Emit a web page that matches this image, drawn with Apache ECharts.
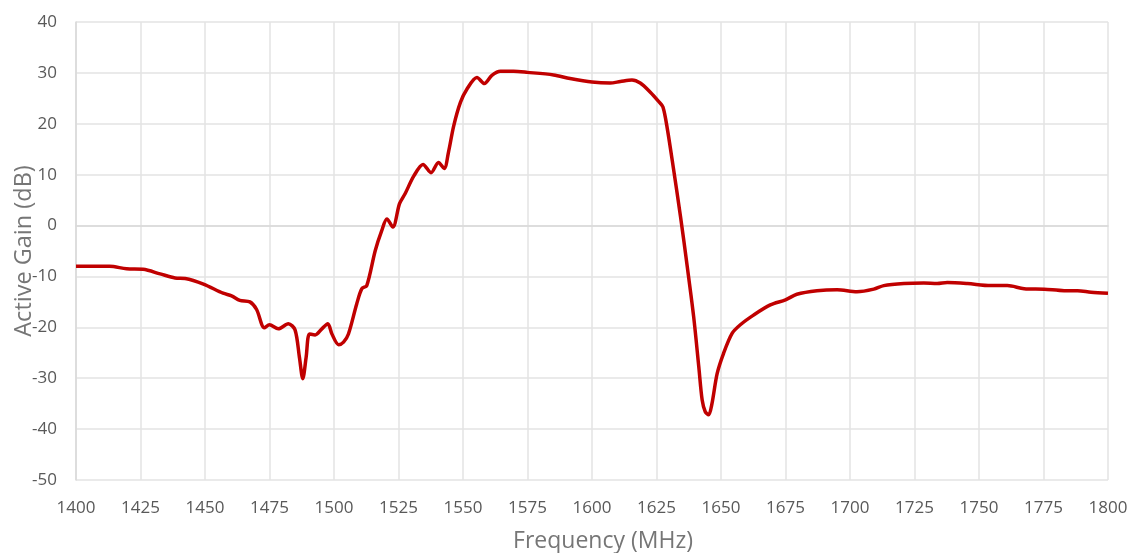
<!DOCTYPE html>
<html>
<head>
<meta charset="utf-8">
<script src="https://cdn.jsdelivr.net/npm/echarts@6/dist/echarts.min.js"></script>
<style>
html,body{margin:0;padding:0;background:#fff;}
#chart{width:1132px;height:553px;}
</style>
</head>
<body>
<div id="chart"></div>
<script>
const xTitle = "Frequency (MHz)";
const yTitle = "Active Gain (dB)";
const freq = [1400,1405,1413,1419.6,1426,1432.6,1438.4,1442.3,1449.4,1457,1460.3,1463.5,1467.4,1470,1473,1475,1478.4,1482.3,1484.9,1486.6,1487.9,1489.2,1490.5,1492.7,1495.3,1497.6,1499.2,1501.8,1503.7,1505.6,1508.8,1510.8,1512.7,1516,1518.5,1520.5,1522.8,1525.4,1527.6,1530.9,1534.5,1537.6,1540.5,1542.7,1544.4,1546.4,1549,1551.5,1555.4,1558.3,1561.2,1564.5,1569.6,1575,1585.1,1591.5,1600,1607,1611,1615.5,1618.7,1622.6,1625.8,1627.5,1629.2,1631.6,1634.3,1636.9,1639.4,1641.4,1642.7,1643.9,1645.2,1646.5,1648.5,1651,1654.3,1657.5,1662.6,1669.1,1675,1679.4,1687.2,1695,1702.7,1709.2,1713.1,1720.9,1728.6,1733.8,1737.7,1745.5,1754.5,1761,1767.5,1775.3,1783,1788.2,1793.4,1800];
const gain = [-8.0,-8.0,-8.0,-8.5,-8.6,-9.5,-10.3,-10.4,-11.5,-13.3,-13.8,-14.7,-15.0,-16.5,-20.1,-19.5,-20.3,-19.3,-20.5,-25.9,-30.1,-25.9,-21.3,-21.5,-20.3,-19.3,-21.3,-23.4,-22.9,-21.3,-15.4,-12.4,-11.8,-4.9,-1.0,1.3,-0.3,4.3,6.3,9.7,12.0,10.4,12.4,11.2,14.5,19.6,24.2,26.8,29.1,27.9,29.5,30.3,30.3,30.1,29.6,28.9,28.2,28.0,28.3,28.6,28.0,26.2,24.4,23.3,19.0,11.1,1.8,-8.0,-17.9,-27.8,-34.3,-36.6,-37.2,-35.0,-29.1,-25.1,-21.2,-19.5,-17.6,-15.6,-14.6,-13.5,-12.8,-12.6,-13.0,-12.5,-11.8,-11.4,-11.3,-11.4,-11.2,-11.4,-11.8,-11.8,-12.4,-12.5,-12.8,-12.8,-13.1,-13.3];
const xMin = 1400, xMax = 1800, xStep = 25;
const yMin = -50, yMax = 40, yStep = 10;

const chart = echarts.init(document.getElementById('chart'), null, {renderer:'canvas'});
const font = "'Open Sans', 'Liberation Sans', sans-serif";
chart.setOption({
  animation:false,
  backgroundColor:'#ffffff',
  grid:{left:76, right:24, top:22, bottom:73, containLabel:false, outerBoundsMode:'none'},
  xAxis:{
    type:'value', min:xMin, max:xMax, interval:xStep,
    name:xTitle, nameLocation:'middle', nameGap:50, nameMoveOverlap:false,
    nameTextStyle:{color:'#767676', fontSize:23, fontFamily:font, padding:[0,0,0,22]},
    axisLine:{show:true, lineStyle:{color:'#d9d9d9', width:1.5}},
    axisTick:{show:false},
    axisLabel:{color:'#595959', fontSize:17, fontFamily:font, margin:20, formatter:(v)=>String(v)},
    splitLine:{show:true, lineStyle:{color:'#e3e3e3', width:1.5}}
  },
  yAxis:{
    type:'value', min:yMin, max:yMax, interval:yStep,
    name:yTitle, nameLocation:'middle', nameGap:40, nameRotate:90, nameMoveOverlap:false,
    nameTextStyle:{color:'#767676', fontSize:23.5, fontFamily:font},
    axisLine:{show:true, lineStyle:{color:'#d9d9d9', width:1.5}},
    axisTick:{show:false},
    axisLabel:{color:'#595959', fontSize:17, fontFamily:font, margin:19},
    splitLine:{show:true, lineStyle:{color:'#e3e3e3', width:1.5}}
  },
  series:[{
    type:'line',
    data:freq.map((f,i)=>[f,gain[i]]),
    showSymbol:false,
    smooth:0.3,
    lineStyle:{color:'#c00000', width:3.5},
    itemStyle:{color:'#c00000'}
  }]
});
</script>
</body>
</html>
